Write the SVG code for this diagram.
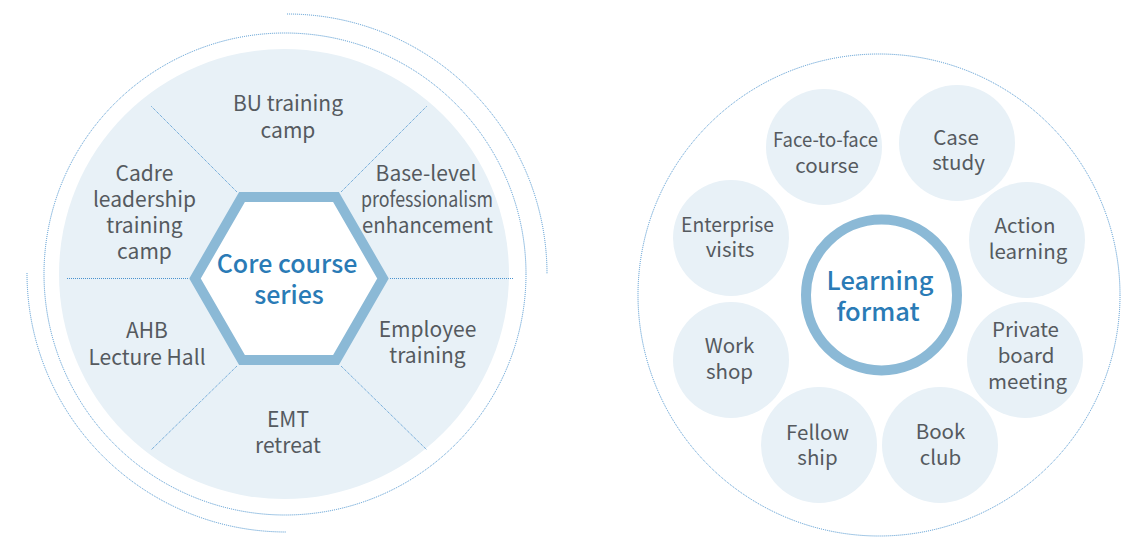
<svg xmlns="http://www.w3.org/2000/svg" width="1129" height="537" viewBox="0 0 1129 537">
<style>
.dot{fill:none;stroke:#4a93cf;stroke-width:1;stroke-dasharray:1 1}
.lbl{font-family:"Noto Sans CJK SC","Source Sans Pro","Noto Sans",sans-serif;font-size:21px;fill:#555a5f;text-anchor:middle}
.rl{font-size:20.5px}
.big{font-family:"Noto Sans CJK SC","Source Sans Pro","Noto Sans",sans-serif;font-size:25px;fill:#2a7bb6;text-anchor:middle;font-weight:500}
.pill{fill:#e8f1f7}
.ring{fill:#fff;stroke:#8bb9d6;stroke-width:10}
</style>
<rect width="1129" height="537" fill="#fff"/>
<!-- left diagram -->
<g id="left-frame">
<circle cx="284" cy="274" r="225" fill="#e8f1f7"/>
<circle class="dot" cx="285" cy="274" r="241"/>
<path class="dot" d="M287 14 A260 260 0 0 1 547 274"/>
<path class="dot" d="M27 273 A259 259 0 0 0 286 532"/>
</g>
<g id="connectors">
<line class="dot" x1="237" y1="192" x2="151" y2="106"/>
<line class="dot" x1="341" y1="192" x2="427" y2="106"/>
<line class="dot" x1="188" y1="278.5" x2="67" y2="278.5"/>
<line class="dot" x1="390" y1="278.5" x2="514" y2="278.5"/>
<line class="dot" x1="237" y1="366" x2="151" y2="450"/>
<line class="dot" x1="341" y1="366" x2="427" y2="450"/>
</g>
<g id="core">
<polygon class="ring" points="195,278.5 242,197 336,197 383,278.5 336,360 242,360"/>
<text class="big" x="287" y="273">Core course</text>
<text class="big" x="289" y="304">series</text>
</g>
<g id="bu"><text class="lbl" x="288" y="111">BU training</text><text class="lbl" x="288" y="138">camp</text></g>
<g id="cadre"><text class="lbl" x="144.5" y="181">Cadre</text><text class="lbl" x="144.5" y="207">leadership</text><text class="lbl" x="144.5" y="233">training</text><text class="lbl" x="144.5" y="259">camp</text></g>
<g id="base"><text class="lbl" x="426" y="181">Base-level</text><text class="lbl" x="427" y="207" textLength="132" lengthAdjust="spacingAndGlyphs">professionalism</text><text class="lbl" x="427.5" y="233" textLength="131" lengthAdjust="spacingAndGlyphs">enhancement</text></g>
<g id="ahb"><text class="lbl" x="147" y="338">AHB</text><text class="lbl" x="147" y="365">Lecture Hall</text></g>
<g id="employee"><text class="lbl" x="427.5" y="337">Employee</text><text class="lbl" x="427.5" y="363">training</text></g>
<g id="emt"><text class="lbl" x="288" y="427">EMT</text><text class="lbl" x="288" y="453">retreat</text></g>
<!-- right diagram -->
<g id="right-frame"><circle class="dot" cx="879" cy="295" r="241"/></g>
<g id="learning">
<circle class="ring" cx="881.5" cy="295" r="75.5"/>
<text class="big" x="880" y="290" style="font-size:25.5px">Learning</text>
<text class="big" x="878" y="321" style="font-size:25.5px">format</text>
</g>
<g id="face"><circle class="pill" cx="824" cy="147" r="58"/><text class="lbl rl" x="825.5" y="147" textLength="105" lengthAdjust="spacingAndGlyphs">Face-to-face</text><text class="lbl rl" x="827" y="173">course</text></g>
<g id="case"><circle class="pill" cx="957" cy="143" r="58"/><text class="lbl rl" x="956" y="145">Case</text><text class="lbl rl" x="958.5" y="170">study</text></g>
<g id="action"><circle class="pill" cx="1027" cy="240" r="58"/><text class="lbl rl" x="1025" y="233">Action</text><text class="lbl rl" x="1028" y="259">learning</text></g>
<g id="private"><circle class="pill" cx="1025" cy="360" r="58"/><text class="lbl rl" x="1025.5" y="337">Private</text><text class="lbl rl" x="1026" y="363">board</text><text class="lbl rl" x="1027.5" y="389">meeting</text></g>
<g id="book"><circle class="pill" cx="940" cy="445" r="58"/><text class="lbl rl" x="940.5" y="439">Book</text><text class="lbl rl" x="940.5" y="465">club</text></g>
<g id="fellow"><circle class="pill" cx="819" cy="445" r="58"/><text class="lbl rl" x="817.5" y="440">Fellow</text><text class="lbl rl" x="817.5" y="465">ship</text></g>
<g id="work"><circle class="pill" cx="731" cy="360" r="58"/><text class="lbl rl" x="729.5" y="353">Work</text><text class="lbl rl" x="729.5" y="379">shop</text></g>
<g id="enterprise"><circle class="pill" cx="731" cy="238" r="58"/><text class="lbl rl" x="727.5" y="232" textLength="93" lengthAdjust="spacingAndGlyphs">Enterprise</text><text class="lbl rl" x="730" y="257">visits</text></g>
</svg>
